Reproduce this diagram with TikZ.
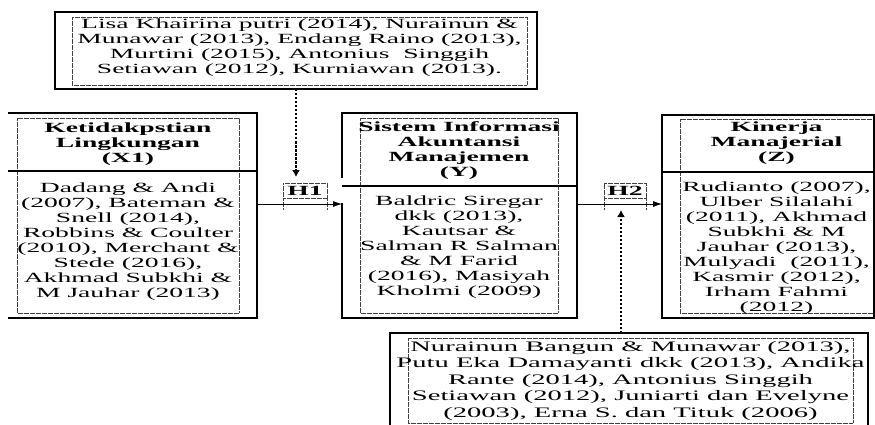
\documentclass[tikz,border=0pt]{standalone}
\usepackage{fontspec}
\setmainfont{Liberation Serif}[FakeStretch=1.97]
\usetikzlibrary{arrows.meta}
\tikzset{
  boxline/.style={line width=1.3pt, draw=black},
  innerdot/.style={draw=black!75, line width=0.7pt, dash pattern=on 0.6pt off 0.6pt},
  frame/.style={draw=none, inner sep=0pt, outer sep=0pt},
  txt/.style={inner sep=0pt, outer sep=0pt, align=center, anchor=north, font=\fontsize{14}{15}\selectfont},
  hd/.style={txt, font=\fontsize{14}{15}\selectfont\bfseries},
  lbl/.style={innerdot, inner sep=0pt, outer sep=0pt, minimum height=15pt, font=\fontsize{14}{15}\selectfont\bfseries},
  arr/.style={-{Latex[length=9pt,width=6pt]}, line width=0.8pt},
  dasharr/.style={-{Latex[length=7pt,width=8pt]}, line width=1.8pt, dash pattern=on 2.5pt off 1.5pt},
}
\begin{document}
\begin{tikzpicture}[x=1pt,y=-1pt]
\useasboundingbox (0,0) rectangle (875,425);
\fill[white] (0,0) rectangle (875,425);
% outer frames (as named nodes)
\node[frame, minimum width=482pt, minimum height=77pt] (top) at (296,50.5) {};
\node[frame, minimum width=249pt, minimum height=205pt] (x1) at (132.5,215.5) {};
\node[frame, minimum width=235pt, minimum height=205pt] (y) at (459.5,215.5) {};
\node[frame, minimum width=212pt, minimum height=203pt] (z) at (768,216.5) {};
\node[frame, minimum width=478pt, minimum height=94pt] (bot) at (629,380) {};
% inner dotted text boxes
\draw[innerdot] (72,17) rectangle (527,85);
\draw[innerdot] (17,118) rectangle (239,313);
\draw[innerdot] (360,118) rectangle (558,313);
\draw[innerdot] (680,119) rectangle (873,313);
\draw[innerdot] (408,338) rectangle (853,423);
% outer lines
\draw[boxline] (top.north west) rectangle (top.south east);
\draw[boxline] (x1.north west) -- (x1.north east) -- (x1.south east) -- (x1.south west);
\draw[boxline] (x1.west |- 0,171) -- (x1.east |- 0,171);
\draw[boxline] ([yshift=-65pt]y.north west) -- (y.north west) -- (y.north east) -- (y.south east) -- (y.south west) -- ([yshift=115pt]y.south west);
\draw[boxline] (y.west |- 0,186) -- (y.east |- 0,186);
\draw[boxline] (z.north west) rectangle (z.south east);
\draw[boxline] (z.west |- 0,172) -- (z.east |- 0,172);
\draw[boxline] ([yshift=-1pt]bot.south west) -- (bot.north west) -- (bot.north east) -- ([yshift=-1pt]bot.south east);
% texts
\node[txt] (ttop) at (299.5,18.5) {\strut Lisa Khairina putri (2014), Nurainun \&\\Munawar (2013), Endang Raino (2013),\\Murtini (2015), Antonius\ \ Singgih\\Setiawan (2012), Kurniawan (2013).};
\node[hd] (x1h) at (128,121.5) {\strut Ketidakpstian\\Lingkungan\\(X1)};
\node[txt] (x1b) at (128,181.5) {\strut Dadang \& Andi\\(2007), Bateman \&\\Snell (2014),\\Robbins \& Coulter\\(2010), Merchant \&\\Stede (2016),\\Akhmad Subkhi \&\\M Jauhar (2013)};
\node[hd] (yh) at (459,120.5) {\strut Sistem Informasi\\Akuntansi\\Manajemen\\(Y)};
\node[txt] (yb) at (459,194.5) {\strut Baldric Siregar\\dkk (2013),\\Kautsar \&\\Salman R Salman\\\& M Farid\\(2016), Masiyah\\Kholmi (2009)};
\node[hd] (zh) at (776.5,120.5) {\strut Kinerja\\Manajerial\\(Z)};
\node[txt] (zb) at (776.5,180.5) {\strut Rudianto (2007),\\Ulber Silalahi\\(2011), Akhmad\\Subkhi \& M\\Jauhar (2013),\\Mulyadi\ \ (2011),\\Kasmir (2012),\\Irham Fahmi\\(2012)};
\node[txt, font=\fontsize{14.5}{16.5}\selectfont] (tbot) at (630.5,339.5) {\strut Nurainun Bangun \& Munawar (2013),\\Putu Eka Damayanti dkk (2013), Andika\\Rante (2014), Antonius Singgih\\Setiawan (2012), Juniarti dan Evelyne\\(2003), Erna S. dan Tituk (2006)};
% hypothesis labels
\node[lbl, minimum width=44pt] (h1) at (305,190.5) {H1};
\node[lbl, minimum width=42pt] (h2) at (625,190.5) {H2};
\draw[innerdot] (h1.south west) -- ++(0,11);
\draw[innerdot] (h1.south east) -- ++(0,11);
\draw[innerdot] (h2.south west) -- ++(0,12);
\draw[innerdot] (h2.south east) -- ++(0,12);
% connectors
\coordinate (mid) at (0,204);
\coordinate (bup) at (621,333);
\draw[arr] (x1.east |- mid) -- (y.west |- mid);
\draw[arr] (y.east |- mid) -- (z.west |- mid);
\draw[dasharr, shorten >=6pt] (top.south) -- (top.south |- h1.north);
\draw[dasharr, shorten >=12pt] (bup) -- (bup |- h2.south);
\end{tikzpicture}
\end{document}
